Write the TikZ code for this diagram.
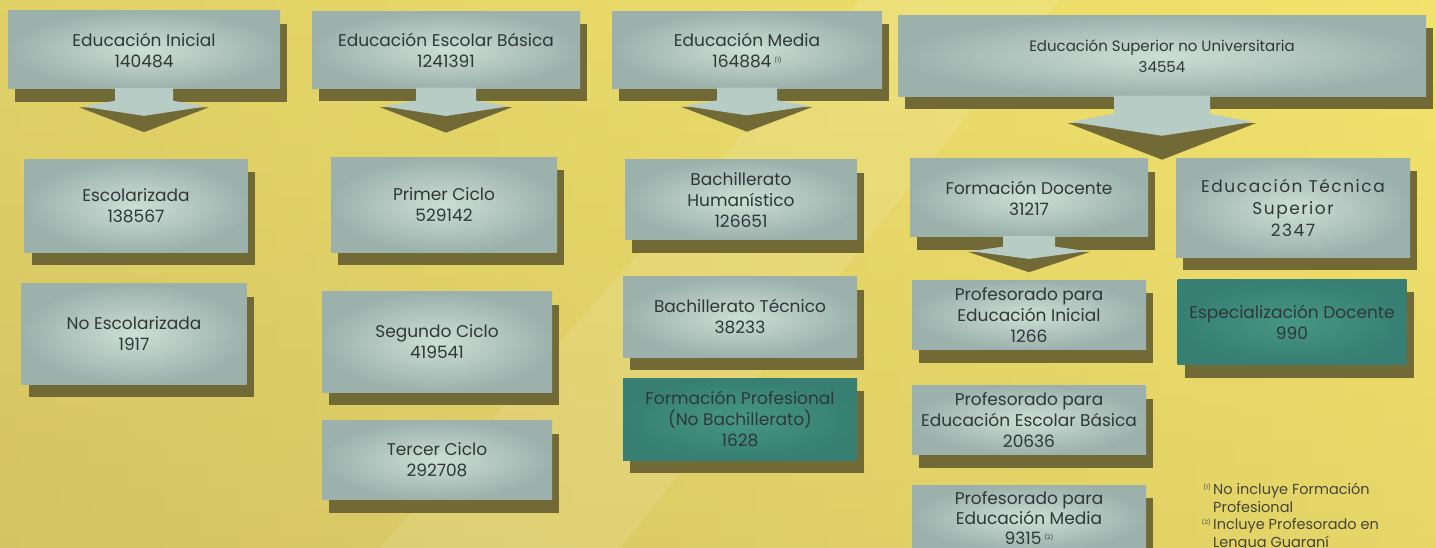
\documentclass[tikz,border=0pt]{standalone}
\usepackage{fontspec}
\setmainfont{Poppins}
\newfontfamily\widefont[LetterSpace=9]{Poppins}
\usetikzlibrary{calc}
\definecolor{bgtop}{HTML}{F2E36C}
\definecolor{bgbot}{HTML}{DDCC66}
\definecolor{bgleft}{HTML}{CBBC60}
\definecolor{boxout}{HTML}{9DB1AC}
\definecolor{boxin}{HTML}{CBDFD6}
\definecolor{tealin}{HTML}{469685}
\definecolor{tealout}{HTML}{367F72}
\definecolor{shad}{HTML}{716A36}
\definecolor{shaftc}{HTML}{B6CCC5}
\definecolor{txt}{HTML}{2F3837}
\definecolor{fntxt}{HTML}{45463A}
\tikzset{
  gbox/.style={inner sep=0pt, align=center, text=txt,
    font=\fontsize{17}{21}\selectfont,
    inner color=boxin, outer color=boxout,
    preaction={fill=shad, transform canvas={shift={(7pt,-13pt)}}}},
  tbox/.style={gbox, inner color=tealin, outer color=tealout},
  sz/.style 2 args={minimum width=#1pt, minimum height=#2pt}
}
\newcommand\bigarrow[4]{%
  \fill[shad] ($(#1.south)+(-#3,0.42*#4)$) -- ($(#1.south)+(#3,0.42*#4)$) -- ($(#1.south)+(0,#4)$) -- cycle;
  \fill[shaftc] ($(#1.south)+(-#2,-1)$) -- ($(#1.south)+(#2,-1)$) -- ($(#1.south)+(#2,0.27*#4)$)
    -- ($(#1.south)+(#3-3,0.40*#4)$) -- ($(#1.south)+(0,0.62*#4)$) -- ($(#1.south)+(-#3+3,0.40*#4)$)
    -- ($(#1.south)+(-#2,0.27*#4)$) -- cycle;
}
\newcommand\fnmark[1]{\llap{\raisebox{5pt}{\fontsize{6}{6}\selectfont(#1)}\,}}
\begin{document}
\begin{tikzpicture}[x=1pt,y=-1pt]
\useasboundingbox (0,0) rectangle (1436,548);
\shade[top color=bgtop, bottom color=bgbot] (0,0) rectangle (1436,548);
\shade[left color=bgleft, right color=bgtop, fill opacity=0.45] (0,0) rectangle (1436,548);
\fill[white, opacity=0.10] (380,548) -- (620,548) -- (1060,0) -- (860,0) -- cycle;

% top row
\node[gbox, sz={272}{78}] (ei) at (144,50) {Educación Inicial\\140484};
\node[gbox, sz={268}{77}] (eeb) at (446,50) {Educación Escolar Básica\\1241391};
\node[gbox, sz={270}{77}] (em) at (747,50) {Educación Media\\164884\,\raisebox{5pt}{\fontsize{6}{6}\selectfont(1)}};
\node[gbox, sz={528}{81}, font=\fontsize{15}{21}\selectfont] (es) at (1162,56) {Educación Superior no Universitaria\\34554};

% column 1
\node[gbox, sz={223}{93}] (esc) at (136,206) {Escolarizada\\138567};
\node[gbox, sz={225}{100}] (nesc) at (134,334) {No Escolarizada\\1917};
% column 2
\node[gbox, sz={226}{95}] (pc) at (444,205) {Primer Ciclo\\529142};
\node[gbox, sz={230}{100}] (sc) at (437,342) {Segundo Ciclo\\419541};
\node[gbox, sz={230}{79}] (tc) at (437,460) {Tercer Ciclo\\292708};
% column 3
\node[gbox, sz={232}{80}] (bh) at (741,200) {Bachillerato\\Humanístico\\126651};
\node[gbox, sz={234}{80}] (bt) at (740,317) {Bachillerato Técnico\\38233};
\node[tbox, sz={234}{82}] (fp) at (740,419) {Formación Profesional\\(No Bachillerato)\\1628};
% column 4
\node[gbox, sz={238}{78}] (fd) at (1029,198) {Formación Docente\\31217};
\node[gbox, sz={234}{69}] (pei) at (1029,315) {Profesorado para\\Educación Inicial\\1266};
\node[gbox, sz={234}{69}] (peeb) at (1029,420) {Profesorado para\\Educación Escolar Básica\\20636};
\node[gbox, sz={234}{66}, font=\fontsize{17}{20}\selectfont] (pem) at (1029,518) {Profesorado para\\Educación Media\\9315\,\raisebox{5pt}{\fontsize{6}{6}\selectfont(2)}};
% column 5
\node[gbox, sz={234}{99}, font=\widefont\fontsize{17}{22}\selectfont] (ets) at (1293,208) {Educación Técnica\\Superior\\2347};
\node[tbox, sz={229}{85}] (esd) at (1292,322) {Especialización Docente\\990};

% arrows
\bigarrow{ei}{29}{65}{43}
\bigarrow{eeb}{30}{66}{44}
\bigarrow{em}{30}{66}{43}
\bigarrow{es}{48}{94}{63}
\bigarrow{fd}{26}{61}{35}

% footnotes
\node[anchor=north west, align=left, inner sep=0pt, text=fntxt, font=\fontsize{14.5}{17.5}\selectfont] (fn) at (1213,483)
  {\fnmark{1}No incluye Formación\\Profesional\\\fnmark{2}Incluye Profesorado en\\Lengua Guaraní};
\end{tikzpicture}
\end{document}
